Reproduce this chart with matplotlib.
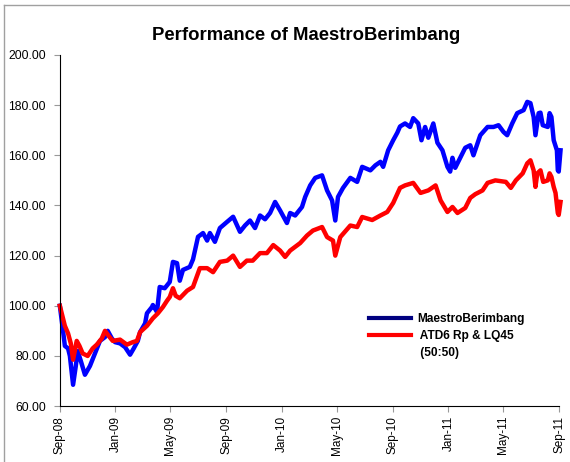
import matplotlib
matplotlib.use("Agg")
import matplotlib.pyplot as plt
from matplotlib.lines import Line2D
import pandas as pd

plt.rcParams['font.family'] = ['Liberation Sans', 'DejaVu Sans']

title = "Performance of MaestroBerimbang"
series_names = ["MaestroBerimbang", " ATD6 Rp & LQ45", " (50:50)"]
y_ticks = [60, 80, 100, 120, 140, 160, 180, 200]
x_tick_dates = ["2008-09-01", "2009-01-01", "2009-05-01", "2009-09-01", "2010-01-01",
                "2010-05-01", "2010-09-01", "2011-01-01", "2011-05-01", "2011-09-01"]

maestro_dates = [
    "2008-09-01", "2008-09-08", "2008-09-12", "2008-09-19", "2008-09-23", "2008-09-30",
    "2008-10-06", "2008-10-10", "2008-10-17", "2008-10-26", "2008-11-06", "2008-11-17",
    "2008-11-28", "2008-12-09", "2008-12-15", "2008-12-24", "2008-12-31", "2009-01-11",
    "2009-01-22", "2009-02-02", "2009-02-10", "2009-02-19", "2009-02-24", "2009-03-07",
    "2009-03-11", "2009-03-22", "2009-03-24", "2009-04-02", "2009-04-08", "2009-04-19",
    "2009-04-30", "2009-05-07", "2009-05-16", "2009-05-22", "2009-05-29", "2009-06-13",
    "2009-06-20", "2009-07-01", "2009-07-12", "2009-07-21", "2009-07-27", "2009-08-07",
    "2009-08-18", "2009-09-03", "2009-09-16", "2009-10-01", "2009-10-12", "2009-10-23",
    "2009-11-03", "2009-11-14", "2009-11-25", "2009-12-06", "2009-12-17", "2009-12-28",
    "2010-01-12", "2010-01-19", "2010-01-30", "2010-02-14", "2010-02-21", "2010-03-04",
    "2010-03-15", "2010-03-30", "2010-04-10", "2010-04-21", "2010-04-28", "2010-05-04",
    "2010-05-15", "2010-05-31", "2010-06-15", "2010-06-26", "2010-07-14", "2010-07-25",
    "2010-08-05", "2010-08-11", "2010-08-22", "2010-09-02", "2010-09-11", "2010-09-17",
    "2010-09-28", "2010-10-09", "2010-10-16", "2010-10-27", "2010-11-03", "2010-11-11",
    "2010-11-18", "2010-11-29", "2010-12-08", "2010-12-19", "2010-12-30", "2011-01-05",
    "2011-01-10", "2011-01-16", "2011-01-27", "2011-02-07", "2011-02-18", "2011-02-25",
    "2011-03-12", "2011-03-28", "2011-04-10", "2011-04-21", "2011-05-02", "2011-05-10",
    "2011-05-21", "2011-06-01", "2011-06-15", "2011-06-23", "2011-06-30", "2011-07-07",
    "2011-07-11", "2011-07-18", "2011-07-22", "2011-07-27", "2011-08-07", "2011-08-11",
    "2011-08-15", "2011-08-20", "2011-08-27", "2011-08-29", "2011-08-31", "2011-09-04",
]
maestro_values = [
    100, 90, 84, 83, 80, 68.5,
    76, 82, 78, 72.5, 76, 81,
    86, 87.5, 90, 87, 85.5, 85,
    83.5, 80.5, 83, 86, 89.5, 93,
    97, 99.5, 100.3, 97.5, 107.5, 107,
    109.5, 117.5, 117, 110, 114.3, 115.5,
    118.5, 127.5, 129, 126, 129, 125.5,
    131, 133.5, 135.5, 129.5, 132, 134,
    131, 136, 134.5, 137, 141.4, 138,
    133, 137, 136, 139.4, 143.4, 148,
    151, 152, 146, 142, 134, 143.4,
    147, 151, 149.4, 155.4, 154, 156,
    157.4, 155.4, 162, 166, 169, 171.5,
    172.7, 171.3, 174.8, 172.7, 166, 171.3,
    167, 172.7, 165, 162, 155.4, 153.5,
    159, 155, 159, 163, 164, 160,
    168, 171.3, 171.3, 172, 169.3, 168,
    172.7, 176.8, 178, 181.3, 180.8, 175.3,
    168, 176.8, 177, 172, 171.3, 176.8,
    175.3, 166, 162, 154, 153.5, 162,
]

bench_dates = [
    "2008-09-01", "2008-09-12", "2008-09-19", "2008-09-25", "2008-09-30", "2008-10-08",
    "2008-10-14", "2008-10-21", "2008-11-01", "2008-11-12", "2008-11-21", "2008-12-02",
    "2008-12-09", "2008-12-17", "2008-12-26", "2009-01-11", "2009-01-26", "2009-02-08",
    "2009-02-17", "2009-02-24", "2009-03-11", "2009-03-24", "2009-04-04", "2009-04-15",
    "2009-04-24", "2009-04-30", "2009-05-07", "2009-05-13", "2009-05-22", "2009-06-07",
    "2009-06-20", "2009-07-05", "2009-07-21", "2009-08-03", "2009-08-18", "2009-09-03",
    "2009-09-16", "2009-10-01", "2009-10-16", "2009-10-29", "2009-11-14", "2009-11-29",
    "2009-12-13", "2009-12-28", "2010-01-08", "2010-01-19", "2010-02-10", "2010-02-25",
    "2010-03-10", "2010-03-30", "2010-04-10", "2010-04-23", "2010-04-28", "2010-05-09",
    "2010-05-31", "2010-06-15", "2010-06-26", "2010-07-18", "2010-08-05", "2010-08-20",
    "2010-09-02", "2010-09-17", "2010-09-28", "2010-10-16", "2010-11-01", "2010-11-18",
    "2010-12-04", "2010-12-15", "2010-12-30", "2011-01-10", "2011-01-21", "2011-02-07",
    "2011-02-18", "2011-03-01", "2011-03-17", "2011-03-28", "2011-04-14", "2011-05-07",
    "2011-05-18", "2011-05-29", "2011-06-13", "2011-06-23", "2011-06-30", "2011-07-07",
    "2011-07-11", "2011-07-15", "2011-07-22", "2011-07-28", "2011-08-07", "2011-08-11",
    "2011-08-15", "2011-08-20", "2011-08-24", "2011-08-29", "2011-08-31", "2011-09-04",
]
bench_values = [
    100, 92, 89, 85, 78.5, 86,
    84, 81, 80, 83, 84.5, 87,
    90, 88, 86, 86.5, 84.5, 85.5,
    86, 89.5, 92, 95, 97, 99.5,
    102, 103.5, 107, 104, 103, 106,
    107.5, 115, 115, 113.4, 117.5, 118,
    120, 115.5, 118, 118, 121, 121,
    124.2, 122, 119.5, 122, 125, 128,
    130, 131.4, 127.4, 126, 120, 127.4,
    132, 131.4, 135.4, 134.2, 136, 137.4,
    141, 147, 148, 149, 145, 146,
    148, 142, 137.4, 139.4, 137, 139,
    143, 144.5, 146, 149, 150, 149.4,
    147, 150, 152.8, 156.8, 158, 154,
    147.4, 152.8, 154, 149.4, 150, 152.8,
    151.4, 147.4, 145, 137, 136.2, 141.4,
]

blue = "#0000FF"
red = "#FF0000"
legend_blue = "#000080"

fig = plt.figure(figsize=(5.70, 4.62), dpi=100)
ax = fig.add_axes([0.105, 0.121, 0.876, 0.760])

ax.plot(pd.to_datetime(maestro_dates), maestro_values, color=blue, lw=3.2,
        solid_joinstyle='round', clip_on=False)
ax.plot(pd.to_datetime(bench_dates), bench_values, color=red, lw=3.2,
        solid_joinstyle='round', clip_on=False)

ax.set_ylim(60, 200)
ax.set_yticks(y_ticks)
ax.set_yticklabels([f"{v:.2f}" for v in y_ticks], fontsize=8.7)
xt = pd.to_datetime(x_tick_dates)
ax.set_xlim(xt[0], xt[-1])
ax.set_xticks(xt)
ax.set_xticklabels([d.strftime("%b-%y") for d in xt], rotation=90, fontsize=8.5)
ax.spines['top'].set_visible(False)
ax.spines['right'].set_visible(False)
ax.spines['left'].set_color('black')
ax.spines['bottom'].set_color('black')
ax.tick_params(axis='both', direction='out', length=4, color='#999999')
ax.tick_params(axis='y', pad=6)
ax.tick_params(axis='x', pad=3)

fig.text(0.537, 0.924, title, ha='center', va='center', fontsize=13.3, fontweight='bold')

handles = [Line2D([], [], color=legend_blue, lw=3),
           Line2D([], [], color=red, lw=3),
           Line2D([], [], color='none', lw=3)]
leg = ax.legend(handles, series_names, loc='upper left', bbox_to_anchor=(0.61, 0.278),
                frameon=False, prop={'weight': 'bold', 'size': 8.6},
                handlelength=3.5, handletextpad=0.5, labelspacing=0.42,
                borderaxespad=0.0)

# chart-area border (top and left edges visible)
fig.add_artist(Line2D([4 / 570, 1], [1 - 5 / 462, 1 - 5 / 462], transform=fig.transFigure,
                      color='#A0A0A0', lw=1))
fig.add_artist(Line2D([4 / 570, 4 / 570], [0, 1 - 5 / 462], transform=fig.transFigure,
                      color='#A0A0A0', lw=1))

fig.savefig("out.png", dpi=100)
